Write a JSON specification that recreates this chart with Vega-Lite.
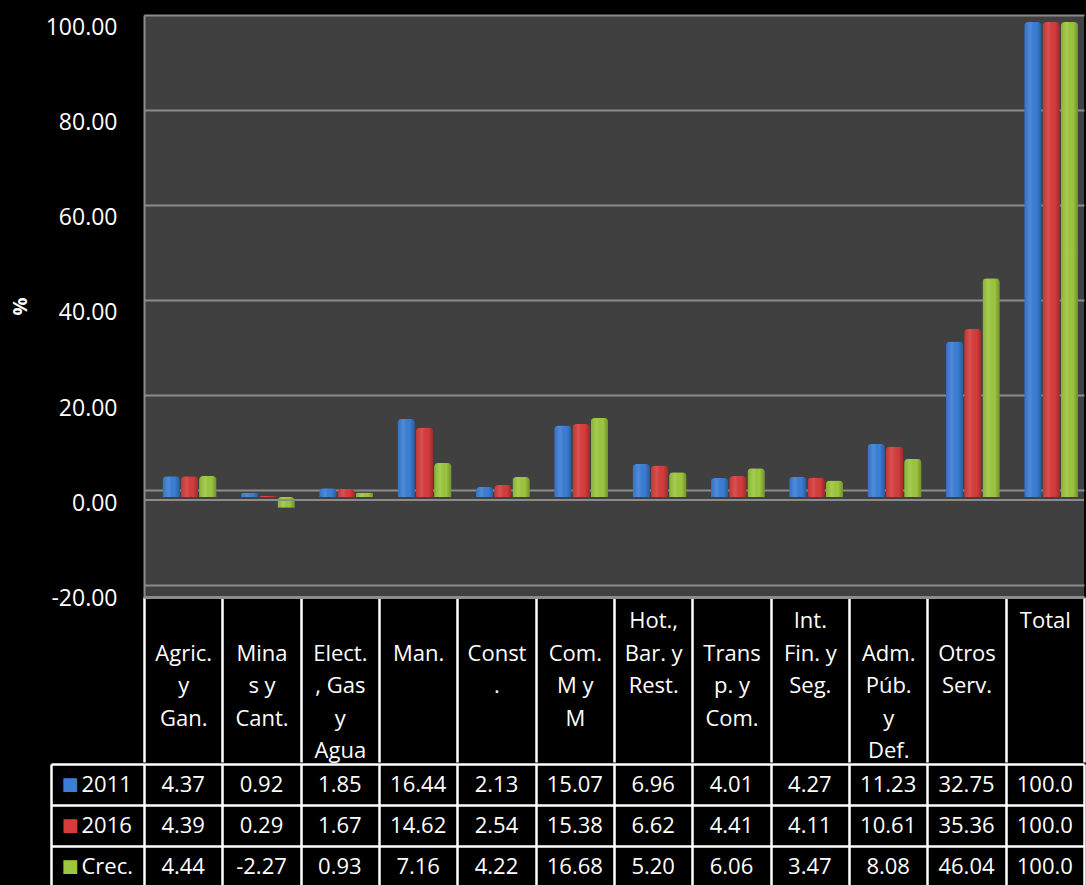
{
  "$schema": "https://vega.github.io/schema/vega-lite/v6.json",
  "background": "#000000",
  "padding": {"left": 10, "top": 15, "right": 0, "bottom": 0},
  "config": {
    "font": "Open Sans",
    "view": {"stroke": null},
    "concat": {"spacing": 0},
    "locale": {
      "number": {"decimal": ".", "thousands": ",", "grouping": [3], "currency": ["$", ""], "minus": "-"}
    }
  },
  "spacing": -12,
  "datasets": {
    "gdp": [
      {"sector": "|Agric.|y|Gan.", "series": "2011", "value": 4.37},
      {"sector": "|Mina|s y|Cant.", "series": "2011", "value": 0.92},
      {"sector": "|Elect.|, Gas|y|Agua", "series": "2011", "value": 1.85},
      {"sector": "|Man.", "series": "2011", "value": 16.44},
      {"sector": "|Const|.", "series": "2011", "value": 2.13},
      {"sector": "|Com.|M y|M", "series": "2011", "value": 15.07},
      {"sector": "Hot.,|Bar. y|Rest.", "series": "2011", "value": 6.96},
      {"sector": "|Trans|p. y|Com.", "series": "2011", "value": 4.01},
      {"sector": "Int.|Fin. y|Seg.", "series": "2011", "value": 4.27},
      {"sector": "|Adm.|Púb.|y|Def.", "series": "2011", "value": 11.23},
      {"sector": "|Otros|Serv.", "series": "2011", "value": 32.75},
      {"sector": "Total", "series": "2011", "value": 100.0},
      {"sector": "|Agric.|y|Gan.", "series": "2016", "value": 4.39},
      {"sector": "|Mina|s y|Cant.", "series": "2016", "value": 0.29},
      {"sector": "|Elect.|, Gas|y|Agua", "series": "2016", "value": 1.67},
      {"sector": "|Man.", "series": "2016", "value": 14.62},
      {"sector": "|Const|.", "series": "2016", "value": 2.54},
      {"sector": "|Com.|M y|M", "series": "2016", "value": 15.38},
      {"sector": "Hot.,|Bar. y|Rest.", "series": "2016", "value": 6.62},
      {"sector": "|Trans|p. y|Com.", "series": "2016", "value": 4.41},
      {"sector": "Int.|Fin. y|Seg.", "series": "2016", "value": 4.11},
      {"sector": "|Adm.|Púb.|y|Def.", "series": "2016", "value": 10.61},
      {"sector": "|Otros|Serv.", "series": "2016", "value": 35.36},
      {"sector": "Total", "series": "2016", "value": 100.0},
      {"sector": "|Agric.|y|Gan.", "series": "Crec.", "value": 4.44},
      {"sector": "|Mina|s y|Cant.", "series": "Crec.", "value": -2.27},
      {"sector": "|Elect.|, Gas|y|Agua", "series": "Crec.", "value": 0.93},
      {"sector": "|Man.", "series": "Crec.", "value": 7.16},
      {"sector": "|Const|.", "series": "Crec.", "value": 4.22},
      {"sector": "|Com.|M y|M", "series": "Crec.", "value": 16.68},
      {"sector": "Hot.,|Bar. y|Rest.", "series": "Crec.", "value": 5.20},
      {"sector": "|Trans|p. y|Com.", "series": "Crec.", "value": 6.06},
      {"sector": "Int.|Fin. y|Seg.", "series": "Crec.", "value": 3.47},
      {"sector": "|Adm.|Púb.|y|Def.", "series": "Crec.", "value": 8.08},
      {"sector": "|Otros|Serv.", "series": "Crec.", "value": 46.04},
      {"sector": "Total", "series": "Crec.", "value": 100.0}
    ]
  },
  "vconcat": [
    {
      "width": 940,
      "height": 582,
      "data": {"name": "gdp"},
      "view": {"fill": "#404040", "stroke": null},
      "encoding": {
        "x": {
          "field": "sector", "type": "nominal", "sort": null,
          "scale": {"paddingInner": 0, "paddingOuter": 0},
          "axis": {
            "title": null, "grid": false,
            "domain": true, "domainColor": "#8c8c8c", "domainWidth": 3,
            "ticks": true, "tickBand": "extent", "tickSize": 165, "tickColor": "#ffffff", "tickWidth": 2.5,
            "labelExpr": "split(datum.label, '|')",
            "labelColor": "#ffffff", "labelFontSize": 22, "labelLineHeight": 32.5,
            "labelBaseline": "top", "labelAlign": "center", "labelAngle": 0,
            "labelPadding": -151.5, "labelOverlap": false, "labelBound": false, "labelFlush": false, "labelLimit": 200
          }
        },
        "xOffset": {
          "field": "series", "type": "nominal", "sort": ["2011", "2016", "Crec."],
          "scale": {"paddingInner": 0.05, "paddingOuter": 0.665, "align": 0.76}
        },
        "y": {
          "field": "value", "type": "quantitative",
          "scale": {"domain": [-21.05, 101.47], "nice": false, "zero": false},
          "axis": {
            "title": "%", "titleColor": "#ffffff", "titleFontSize": 20, "titleFontWeight": "bold", "titlePadding": 14,
            "values": [-20, 0, 20, 40, 60, 80, 100], "format": ".2f",
            "labelColor": "#ffffff", "labelFontSize": 23, "labelPadding": 27,
            "tickOffset": -7, "labelOffset": 13,
            "ticks": false, "domain": true, "domainColor": "#8c8c8c", "domainWidth": 2,
            "grid": true, "gridColor": "#8c8c8c", "gridWidth": 2,
            "minExtent": 100, "maxExtent": 100
          }
        }
      },
      "layer": [
        {
          "mark": {"type": "bar", "cornerRadiusEnd": 4},
          "encoding": {
            "color": {
              "field": "series", "type": "nominal",
              "scale": {"domain": ["2011", "2016", "Crec."], "range": ["#3a7ed6", "#d63c3c", "#9cc63e"]},
              "legend": null
            }
          }
        },
        {
          "mark": {
            "type": "bar", "cornerRadiusEnd": 4,
            "fill": {
              "gradient": "linear", "x1": 0, "x2": 1, "y1": 0, "y2": 0,
              "stops": [
                {"offset": 0, "color": "rgba(0,0,0,0.12)"},
                {"offset": 0.35, "color": "rgba(255,255,255,0.10)"},
                {"offset": 0.7, "color": "rgba(0,0,0,0)"},
                {"offset": 1, "color": "rgba(0,0,0,0.28)"}
              ]
            }
          },
          "encoding": {}
        },
        {
          "mark": {"type": "rule", "color": "#8c8c8c", "strokeWidth": 2, "yOffset": 3},
          "encoding": {"y": {"datum": 0}, "xOffset": null, "x": null}
        }
      ]
    },
    {
      "width": 940,
      "height": 123,
      "data": {"name": "gdp"},
      "layer": [
        {
          "mark": {"type": "text", "fontSize": 22, "color": "#ffffff"},
          "encoding": {
            "x": {
              "field": "sector", "type": "nominal", "sort": null,
              "scale": {"paddingInner": 0, "paddingOuter": 0},
              "axis": {"title": null, "labels": false, "ticks": false, "domain": false, "grid": true, "tickBand": "extent", "gridColor": "#ffffff", "gridWidth": 2.5}
            },
            "y": {
              "field": "series", "type": "nominal", "sort": ["2011", "2016", "Crec."],
              "scale": {"paddingInner": 0, "paddingOuter": 0},
              "axis": {
                "title": null, "grid": true, "tickBand": "extent", "gridColor": "#ffffff", "gridWidth": 2.5,
                "ticks": true, "tickSize": 93, "tickColor": "#ffffff", "tickWidth": 2.5, "domain": false,
                "labelColor": "#ffffff", "labelFontSize": 22, "labelAlign": "left", "labelPadding": -30
              }
            },
            "text": {
              "condition": {"test": "datum.value === 100", "value": "100.0"},
              "field": "value", "type": "quantitative", "format": ".2f"
            }
          }
        },
        {
          "mark": {"type": "text", "text": ""},
          "encoding": {
            "y": {
              "field": "series", "type": "nominal", "sort": ["2011", "2016", "Crec."],
              "axis": {
                "orient": "left", "offset": 93, "title": null,
                "domain": true, "domainColor": "#ffffff", "domainWidth": 2.5,
                "ticks": false, "grid": false,
                "labelExpr": "'■'", "labelFont": "DejaVu Sans", "labelFontSize": 18,
                "labelAlign": "left", "labelPadding": -10,
                "labelColor": {
                  "condition": [
                    {"test": "datum.value === '2011'", "value": "#3a7ed6"},
                    {"test": "datum.value === '2016'", "value": "#d63c3c"}
                  ],
                  "value": "#9cc63e"
                }
              }
            }
          }
        }
      ],
      "resolve": {"axis": {"y": "independent"}}
    }
  ]
}
